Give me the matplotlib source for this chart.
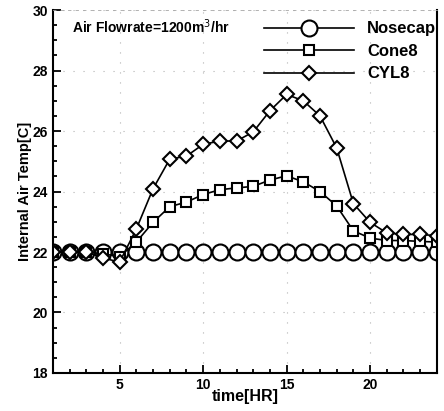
import numpy as np
import matplotlib.pyplot as plt
from matplotlib.ticker import MultipleLocator

plt.rcParams["font.family"] = ["Liberation Sans", "DejaVu Sans"]

# ------------------------------------------------------------
# Data: internal air temperature over one day
# ------------------------------------------------------------
hours = list(range(1, 25))
nosecap = [22.0] * 24
cone8 = [22.0, 22.0, 22.0, 21.94, 21.85, 22.33, 22.98, 23.50, 23.65, 23.90, 24.06, 24.12,
         24.17, 24.38, 24.52, 24.32, 24.00, 23.52, 22.70, 22.46, 22.38, 22.38, 22.35, 22.33]
cyl8 = [22.0, 22.0, 22.0, 21.80, 21.67, 22.76, 24.09, 25.07, 25.17, 25.56, 25.67, 25.67,
        25.97, 26.67, 27.21, 27.00, 26.50, 25.44, 23.60, 22.98, 22.63, 22.58, 22.58, 22.54]

fig = plt.figure(figsize=(4.44, 4.11), dpi=100)
ax = fig.add_axes([0.119, 0.0925, 0.865, 0.883])

ax.plot(hours, nosecap, color="black", linewidth=1.2, marker="o", markersize=11.5,
        markerfacecolor="white", markeredgewidth=1.5, label="Nosecap")
ax.plot(hours, cone8, color="black", linewidth=1.2, marker="s", markersize=7.5,
        markerfacecolor="white", markeredgewidth=1.5, label="Cone8")
ax.plot(hours, cyl8, color="black", linewidth=1.2, marker="D", markersize=7.5,
        markerfacecolor="white", markeredgewidth=1.5, label="CYL8")

ax.set_xlim(1, 24)
ax.set_ylim(18, 30)
ax.xaxis.set_major_locator(MultipleLocator(5))
ax.xaxis.set_minor_locator(MultipleLocator(1))
ax.yaxis.set_major_locator(MultipleLocator(2))
ax.yaxis.set_minor_locator(MultipleLocator(0.5))
ax.tick_params(which="both", direction="in", top=False, right=False, labelsize=10, width=1.3)
ax.tick_params(which="major", length=6)
ax.tick_params(which="minor", length=3)
for lab in ax.get_xticklabels() + ax.get_yticklabels():
    lab.set_fontweight("bold")

ax.grid(True, which="major", color="0.7", linestyle=(0, (1, 8)), linewidth=0.8)

for side in ["left", "bottom", "right"]:
    ax.spines[side].set_linewidth(1.5)
ax.spines["top"].set_linewidth(0.6)
ax.spines["top"].set_color("0.65")
ax.spines["top"].set_linestyle((0, (3, 6)))

ax.set_xlabel("time[HR]", fontsize=11.5, fontweight="bold", labelpad=-2)
ax.set_ylabel("Internal Air Temp[C]", fontsize=10.5, fontweight="bold", labelpad=0)

ax.text(0.05, 0.955, "Air Flowrate=1200m$^3$/hr", transform=ax.transAxes,
        fontsize=10, fontweight="bold", va="center", ha="left")

leg = ax.legend(loc="upper left", bbox_to_anchor=(0.51, 1.01), frameon=False,
                handlelength=5.4, handletextpad=0.8, labelspacing=0.45,
                prop={"size": 12, "weight": "bold"})
leg.set_clip_on(False)

fig.savefig("out.png", dpi=100)
